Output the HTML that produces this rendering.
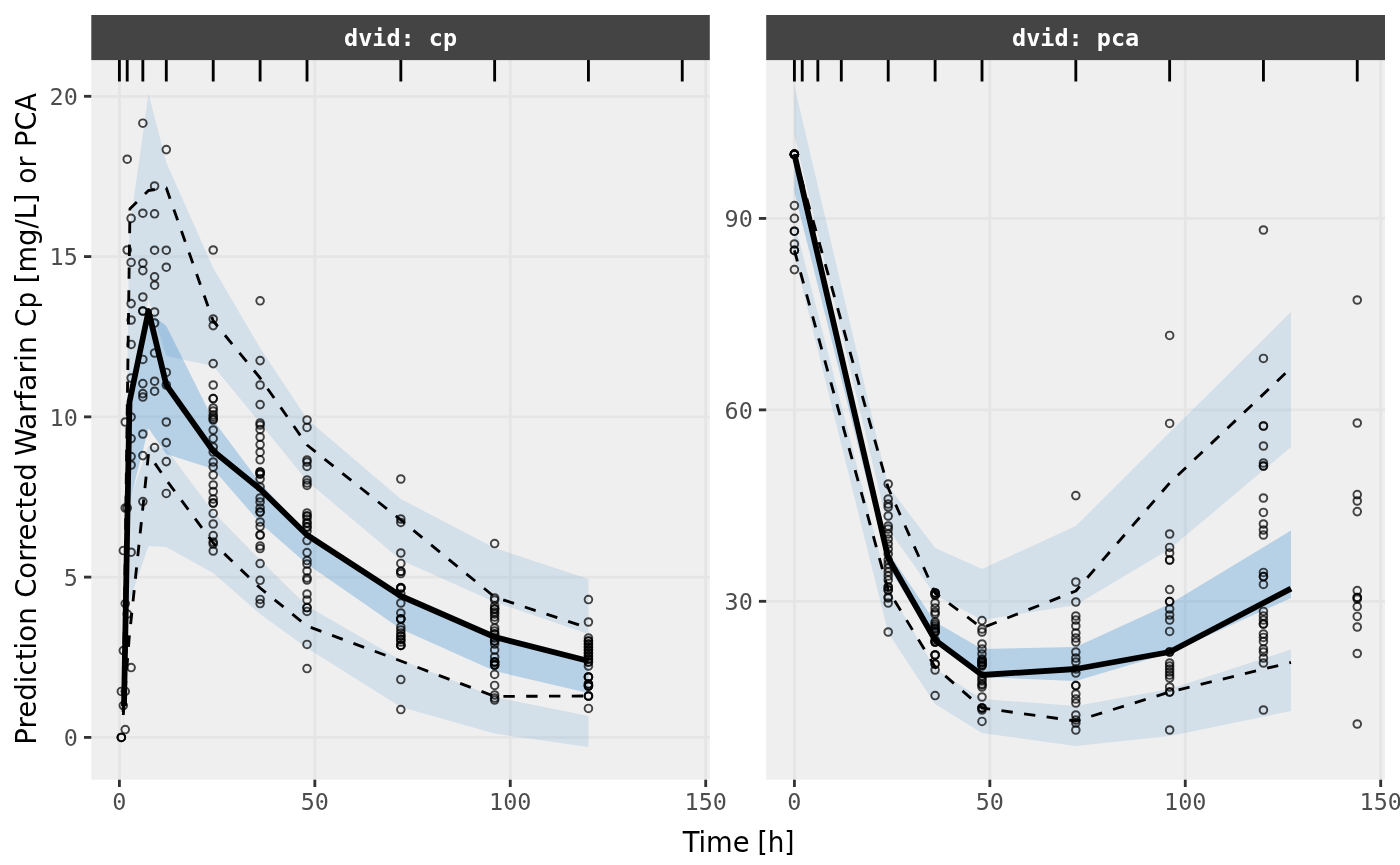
<!DOCTYPE html>
<html lang="en">
<head>
<meta charset="utf-8">
<title>VPC</title>
<style>
html,body{margin:0;padding:0;background:#fff;}
body{width:1400px;height:865px;overflow:hidden;}
svg{display:block;}
.tk{font-family:"DejaVu Sans Mono","Liberation Mono",monospace;font-size:23.47px;fill:#4d4d4d;}
.st{font-family:"DejaVu Sans Mono","Liberation Mono",monospace;font-size:23.47px;font-weight:bold;fill:#fff;}
.ti{font-family:"DejaVu Sans Condensed","DejaVu Sans","Liberation Sans",sans-serif;font-size:28.8px;fill:#000;}
</style>
</head>
<body>
<svg width="1400" height="865" viewBox="0 0 1400 865">
<rect width="1400" height="865" fill="#fff"/>

<clipPath id="c1"><rect x="91.3" y="59.8" width="618.5" height="719.9"/></clipPath>
<rect x="91.3" y="59.8" width="618.5" height="719.9" fill="#efefef"/>
<g clip-path="url(#c1)">
<line x1="91.3" x2="709.8" y1="737.4" y2="737.4" stroke="#e5e5e5" stroke-width="2.85"/>
<line x1="91.3" x2="709.8" y1="577.12" y2="577.12" stroke="#e5e5e5" stroke-width="2.85"/>
<line x1="91.3" x2="709.8" y1="416.85" y2="416.85" stroke="#e5e5e5" stroke-width="2.85"/>
<line x1="91.3" x2="709.8" y1="256.57" y2="256.57" stroke="#e5e5e5" stroke-width="2.85"/>
<line x1="91.3" x2="709.8" y1="96.3" y2="96.3" stroke="#e5e5e5" stroke-width="2.85"/>
<line x1="119.4" x2="119.4" y1="59.8" y2="779.7" stroke="#e5e5e5" stroke-width="2.85"/>
<line x1="314.84" x2="314.84" y1="59.8" y2="779.7" stroke="#e5e5e5" stroke-width="2.85"/>
<line x1="510.27" x2="510.27" y1="59.8" y2="779.7" stroke="#e5e5e5" stroke-width="2.85"/>
<line x1="705.71" x2="705.71" y1="59.8" y2="779.7" stroke="#e5e5e5" stroke-width="2.85"/>
<polygon points="123.31,700 129.17,232 148.5,93.75 166.3,162.5 213.21,268 260.11,348 307.02,419 400.83,499 494.64,548 588.44,579 588.44,634 494.64,602 400.83,560 307.02,481 260.11,423 213.21,366 166.3,356 148.5,299.5 129.17,395 123.31,712" fill="#3388cc" fill-opacity="0.15"/>
<polygon points="123.31,716 129.17,501 148.5,446 166.3,449 213.21,512 260.11,560 307.02,606 400.83,660 494.64,697 588.44,716 588.44,747 494.64,733.6 400.83,707 307.02,648 260.11,614 213.21,573 166.3,547 148.5,546 129.17,602 123.31,730" fill="#3388cc" fill-opacity="0.15"/>
<polygon points="123.31,704 129.17,398 148.5,312 166.3,326 213.21,420 260.11,483 307.02,533 400.83,595 494.64,634 588.44,658 588.44,693 494.64,671 400.83,629 307.02,564 260.11,523 213.21,469 166.3,454 148.5,428.3 129.17,504 123.31,716" fill="#3388cc" fill-opacity="0.3"/>
<path d="M124.01 706 L129.47 402 L148.5 311 L166.3 385 L213.21 451 L260.11 489 L307.02 535 L400.83 596 L494.64 637 L588.44 661" fill="none" stroke="#000" stroke-width="5.8" stroke-linejoin="round" stroke-linecap="butt"/>
<path d="M123.11 712 L129.97 208.7 L148.5 190.5 L166.3 188 L213.21 321 L260.11 378 L307.02 445 L400.83 520 L494.64 597 L588.44 628" fill="none" stroke="#000" stroke-width="2.85" stroke-linejoin="round" stroke-linecap="butt" stroke-dasharray="11.4 11.4"/>
<path d="M123.31 715 L129.17 638 L148.5 454 L166.3 480 L213.21 543 L260.11 588 L307.02 626 L400.83 661 L494.64 696.4 L588.44 696" fill="none" stroke="#000" stroke-width="2.85" stroke-linejoin="round" stroke-linecap="butt" stroke-dasharray="11.4 11.4"/>
<g fill="none" stroke="#000" stroke-opacity="0.72" stroke-width="1.95">
<circle cx="121.35" cy="737.4" r="3.8"/>
<circle cx="121.35" cy="737.4" r="3.8"/>
<circle cx="121.35" cy="737.4" r="3.8"/>
<circle cx="121.35" cy="691.4" r="3.8"/>
<circle cx="123.31" cy="705.6" r="3.8"/>
<circle cx="123.31" cy="650.6" r="3.8"/>
<circle cx="123.31" cy="550.6" r="3.8"/>
<circle cx="125.26" cy="729.6" r="3.8"/>
<circle cx="125.26" cy="691.4" r="3.8"/>
<circle cx="125.26" cy="603.6" r="3.8"/>
<circle cx="125.26" cy="422" r="3.8"/>
<circle cx="125.26" cy="508" r="3.8"/>
<circle cx="127.22" cy="159.2" r="3.8"/>
<circle cx="127.22" cy="250" r="3.8"/>
<circle cx="127.22" cy="614" r="3.8"/>
<circle cx="127.22" cy="508" r="3.8"/>
<circle cx="131.13" cy="218.4" r="3.8"/>
<circle cx="131.13" cy="262.4" r="3.8"/>
<circle cx="131.13" cy="303.6" r="3.8"/>
<circle cx="131.13" cy="320" r="3.8"/>
<circle cx="131.13" cy="344.4" r="3.8"/>
<circle cx="131.13" cy="378" r="3.8"/>
<circle cx="131.13" cy="417" r="3.8"/>
<circle cx="131.13" cy="438.6" r="3.8"/>
<circle cx="131.13" cy="456.6" r="3.8"/>
<circle cx="131.13" cy="465" r="3.8"/>
<circle cx="131.13" cy="552.2" r="3.8"/>
<circle cx="131.13" cy="667.6" r="3.8"/>
<circle cx="142.85" cy="123.2" r="3.8"/>
<circle cx="142.85" cy="213.2" r="3.8"/>
<circle cx="142.85" cy="263" r="3.8"/>
<circle cx="142.85" cy="270.6" r="3.8"/>
<circle cx="142.85" cy="297" r="3.8"/>
<circle cx="142.85" cy="311" r="3.8"/>
<circle cx="142.85" cy="311" r="3.8"/>
<circle cx="142.85" cy="359.4" r="3.8"/>
<circle cx="142.85" cy="383.6" r="3.8"/>
<circle cx="142.85" cy="393.6" r="3.8"/>
<circle cx="142.85" cy="397" r="3.8"/>
<circle cx="142.85" cy="434" r="3.8"/>
<circle cx="142.85" cy="455.6" r="3.8"/>
<circle cx="142.85" cy="501.6" r="3.8"/>
<circle cx="154.58" cy="186" r="3.8"/>
<circle cx="154.58" cy="213.8" r="3.8"/>
<circle cx="154.58" cy="250.2" r="3.8"/>
<circle cx="154.58" cy="276.8" r="3.8"/>
<circle cx="154.58" cy="285.2" r="3.8"/>
<circle cx="154.58" cy="312" r="3.8"/>
<circle cx="154.58" cy="323" r="3.8"/>
<circle cx="154.58" cy="353" r="3.8"/>
<circle cx="154.58" cy="381.2" r="3.8"/>
<circle cx="154.58" cy="391.2" r="3.8"/>
<circle cx="154.58" cy="447.6" r="3.8"/>
<circle cx="166.3" cy="149.6" r="3.8"/>
<circle cx="166.3" cy="250.2" r="3.8"/>
<circle cx="166.3" cy="267.2" r="3.8"/>
<circle cx="166.3" cy="372.4" r="3.8"/>
<circle cx="166.3" cy="385" r="3.8"/>
<circle cx="166.3" cy="422" r="3.8"/>
<circle cx="166.3" cy="442.6" r="3.8"/>
<circle cx="166.3" cy="461.6" r="3.8"/>
<circle cx="166.3" cy="493.4" r="3.8"/>
<circle cx="213.21" cy="250" r="3.8"/>
<circle cx="213.21" cy="319" r="3.8"/>
<circle cx="213.21" cy="325.6" r="3.8"/>
<circle cx="213.21" cy="363.6" r="3.8"/>
<circle cx="213.21" cy="385" r="3.8"/>
<circle cx="213.21" cy="398.6" r="3.8"/>
<circle cx="213.21" cy="398.6" r="3.8"/>
<circle cx="213.21" cy="408" r="3.8"/>
<circle cx="213.21" cy="411" r="3.8"/>
<circle cx="213.21" cy="415" r="3.8"/>
<circle cx="213.21" cy="419" r="3.8"/>
<circle cx="213.21" cy="417" r="3.8"/>
<circle cx="213.21" cy="420" r="3.8"/>
<circle cx="213.21" cy="430" r="3.8"/>
<circle cx="213.21" cy="438.6" r="3.8"/>
<circle cx="213.21" cy="447" r="3.8"/>
<circle cx="213.21" cy="452" r="3.8"/>
<circle cx="213.21" cy="462" r="3.8"/>
<circle cx="213.21" cy="467" r="3.8"/>
<circle cx="213.21" cy="475" r="3.8"/>
<circle cx="213.21" cy="485" r="3.8"/>
<circle cx="213.21" cy="491.6" r="3.8"/>
<circle cx="213.21" cy="499" r="3.8"/>
<circle cx="213.21" cy="503" r="3.8"/>
<circle cx="213.21" cy="503" r="3.8"/>
<circle cx="213.21" cy="513.4" r="3.8"/>
<circle cx="213.21" cy="524" r="3.8"/>
<circle cx="213.21" cy="535.6" r="3.8"/>
<circle cx="213.21" cy="542" r="3.8"/>
<circle cx="213.21" cy="544" r="3.8"/>
<circle cx="213.21" cy="551" r="3.8"/>
<circle cx="260.11" cy="300.8" r="3.8"/>
<circle cx="260.11" cy="360.6" r="3.8"/>
<circle cx="260.11" cy="385" r="3.8"/>
<circle cx="260.11" cy="404.6" r="3.8"/>
<circle cx="260.11" cy="423" r="3.8"/>
<circle cx="260.11" cy="425" r="3.8"/>
<circle cx="260.11" cy="429.4" r="3.8"/>
<circle cx="260.11" cy="437" r="3.8"/>
<circle cx="260.11" cy="444.6" r="3.8"/>
<circle cx="260.11" cy="452.2" r="3.8"/>
<circle cx="260.11" cy="459.8" r="3.8"/>
<circle cx="260.11" cy="472" r="3.8"/>
<circle cx="260.11" cy="472" r="3.8"/>
<circle cx="260.11" cy="474" r="3.8"/>
<circle cx="260.11" cy="474" r="3.8"/>
<circle cx="260.11" cy="479" r="3.8"/>
<circle cx="260.11" cy="487" r="3.8"/>
<circle cx="260.11" cy="498" r="3.8"/>
<circle cx="260.11" cy="502" r="3.8"/>
<circle cx="260.11" cy="508" r="3.8"/>
<circle cx="260.11" cy="512" r="3.8"/>
<circle cx="260.11" cy="512" r="3.8"/>
<circle cx="260.11" cy="522" r="3.8"/>
<circle cx="260.11" cy="526.6" r="3.8"/>
<circle cx="260.11" cy="535" r="3.8"/>
<circle cx="260.11" cy="535" r="3.8"/>
<circle cx="260.11" cy="546" r="3.8"/>
<circle cx="260.11" cy="548.6" r="3.8"/>
<circle cx="260.11" cy="563.6" r="3.8"/>
<circle cx="260.11" cy="580.3" r="3.8"/>
<circle cx="260.11" cy="599.4" r="3.8"/>
<circle cx="260.11" cy="603.6" r="3.8"/>
<circle cx="307.02" cy="420" r="3.8"/>
<circle cx="307.02" cy="427.4" r="3.8"/>
<circle cx="307.02" cy="460" r="3.8"/>
<circle cx="307.02" cy="462" r="3.8"/>
<circle cx="307.02" cy="466.4" r="3.8"/>
<circle cx="307.02" cy="480" r="3.8"/>
<circle cx="307.02" cy="483" r="3.8"/>
<circle cx="307.02" cy="485.4" r="3.8"/>
<circle cx="307.02" cy="513" r="3.8"/>
<circle cx="307.02" cy="516" r="3.8"/>
<circle cx="307.02" cy="516" r="3.8"/>
<circle cx="307.02" cy="519" r="3.8"/>
<circle cx="307.02" cy="523" r="3.8"/>
<circle cx="307.02" cy="523" r="3.8"/>
<circle cx="307.02" cy="527" r="3.8"/>
<circle cx="307.02" cy="527" r="3.8"/>
<circle cx="307.02" cy="531" r="3.8"/>
<circle cx="307.02" cy="540.6" r="3.8"/>
<circle cx="307.02" cy="552.6" r="3.8"/>
<circle cx="307.02" cy="560.6" r="3.8"/>
<circle cx="307.02" cy="564" r="3.8"/>
<circle cx="307.02" cy="571" r="3.8"/>
<circle cx="307.02" cy="578" r="3.8"/>
<circle cx="307.02" cy="580" r="3.8"/>
<circle cx="307.02" cy="594" r="3.8"/>
<circle cx="307.02" cy="600" r="3.8"/>
<circle cx="307.02" cy="607.6" r="3.8"/>
<circle cx="307.02" cy="607.6" r="3.8"/>
<circle cx="307.02" cy="611.4" r="3.8"/>
<circle cx="307.02" cy="644.4" r="3.8"/>
<circle cx="307.02" cy="668.6" r="3.8"/>
<circle cx="400.83" cy="479" r="3.8"/>
<circle cx="400.83" cy="519" r="3.8"/>
<circle cx="400.83" cy="522.4" r="3.8"/>
<circle cx="400.83" cy="553" r="3.8"/>
<circle cx="400.83" cy="563.4" r="3.8"/>
<circle cx="400.83" cy="571.4" r="3.8"/>
<circle cx="400.83" cy="571.4" r="3.8"/>
<circle cx="400.83" cy="573.6" r="3.8"/>
<circle cx="400.83" cy="587.6" r="3.8"/>
<circle cx="400.83" cy="588" r="3.8"/>
<circle cx="400.83" cy="588" r="3.8"/>
<circle cx="400.83" cy="588" r="3.8"/>
<circle cx="400.83" cy="594" r="3.8"/>
<circle cx="400.83" cy="603" r="3.8"/>
<circle cx="400.83" cy="613" r="3.8"/>
<circle cx="400.83" cy="619" r="3.8"/>
<circle cx="400.83" cy="619" r="3.8"/>
<circle cx="400.83" cy="619" r="3.8"/>
<circle cx="400.83" cy="627" r="3.8"/>
<circle cx="400.83" cy="630" r="3.8"/>
<circle cx="400.83" cy="633" r="3.8"/>
<circle cx="400.83" cy="636" r="3.8"/>
<circle cx="400.83" cy="636" r="3.8"/>
<circle cx="400.83" cy="639.4" r="3.8"/>
<circle cx="400.83" cy="639.4" r="3.8"/>
<circle cx="400.83" cy="642" r="3.8"/>
<circle cx="400.83" cy="645.4" r="3.8"/>
<circle cx="400.83" cy="645.4" r="3.8"/>
<circle cx="400.83" cy="645.4" r="3.8"/>
<circle cx="400.83" cy="679.6" r="3.8"/>
<circle cx="400.83" cy="709.6" r="3.8"/>
<circle cx="494.64" cy="543.6" r="3.8"/>
<circle cx="494.64" cy="598" r="3.8"/>
<circle cx="494.64" cy="600" r="3.8"/>
<circle cx="494.64" cy="606" r="3.8"/>
<circle cx="494.64" cy="609" r="3.8"/>
<circle cx="494.64" cy="609" r="3.8"/>
<circle cx="494.64" cy="612" r="3.8"/>
<circle cx="494.64" cy="614" r="3.8"/>
<circle cx="494.64" cy="617" r="3.8"/>
<circle cx="494.64" cy="620" r="3.8"/>
<circle cx="494.64" cy="628" r="3.8"/>
<circle cx="494.64" cy="631" r="3.8"/>
<circle cx="494.64" cy="634" r="3.8"/>
<circle cx="494.64" cy="634" r="3.8"/>
<circle cx="494.64" cy="638" r="3.8"/>
<circle cx="494.64" cy="641" r="3.8"/>
<circle cx="494.64" cy="641" r="3.8"/>
<circle cx="494.64" cy="644" r="3.8"/>
<circle cx="494.64" cy="650" r="3.8"/>
<circle cx="494.64" cy="657" r="3.8"/>
<circle cx="494.64" cy="662" r="3.8"/>
<circle cx="494.64" cy="662" r="3.8"/>
<circle cx="494.64" cy="662" r="3.8"/>
<circle cx="494.64" cy="665" r="3.8"/>
<circle cx="494.64" cy="665" r="3.8"/>
<circle cx="494.64" cy="665" r="3.8"/>
<circle cx="494.64" cy="674.4" r="3.8"/>
<circle cx="494.64" cy="685.4" r="3.8"/>
<circle cx="494.64" cy="695" r="3.8"/>
<circle cx="494.64" cy="698" r="3.8"/>
<circle cx="494.64" cy="700" r="3.8"/>
<circle cx="588.44" cy="599.6" r="3.8"/>
<circle cx="588.44" cy="622" r="3.8"/>
<circle cx="588.44" cy="638" r="3.8"/>
<circle cx="588.44" cy="641" r="3.8"/>
<circle cx="588.44" cy="641" r="3.8"/>
<circle cx="588.44" cy="644" r="3.8"/>
<circle cx="588.44" cy="644" r="3.8"/>
<circle cx="588.44" cy="647" r="3.8"/>
<circle cx="588.44" cy="647" r="3.8"/>
<circle cx="588.44" cy="650" r="3.8"/>
<circle cx="588.44" cy="650" r="3.8"/>
<circle cx="588.44" cy="653" r="3.8"/>
<circle cx="588.44" cy="653" r="3.8"/>
<circle cx="588.44" cy="656" r="3.8"/>
<circle cx="588.44" cy="656" r="3.8"/>
<circle cx="588.44" cy="659" r="3.8"/>
<circle cx="588.44" cy="659" r="3.8"/>
<circle cx="588.44" cy="662" r="3.8"/>
<circle cx="588.44" cy="662" r="3.8"/>
<circle cx="588.44" cy="666" r="3.8"/>
<circle cx="588.44" cy="677" r="3.8"/>
<circle cx="588.44" cy="677" r="3.8"/>
<circle cx="588.44" cy="677" r="3.8"/>
<circle cx="588.44" cy="684" r="3.8"/>
<circle cx="588.44" cy="684" r="3.8"/>
<circle cx="588.44" cy="686" r="3.8"/>
<circle cx="588.44" cy="686" r="3.8"/>
<circle cx="588.44" cy="686" r="3.8"/>
<circle cx="588.44" cy="696" r="3.8"/>
<circle cx="588.44" cy="696" r="3.8"/>
<circle cx="588.44" cy="696" r="3.8"/>
<circle cx="588.44" cy="708.4" r="3.8"/>
</g>
<line x1="119.4" x2="119.4" y1="59.8" y2="81.4" stroke="#000" stroke-width="2.85"/>
<line x1="127.22" x2="127.22" y1="59.8" y2="81.4" stroke="#000" stroke-width="2.85"/>
<line x1="142.85" x2="142.85" y1="59.8" y2="81.4" stroke="#000" stroke-width="2.85"/>
<line x1="166.3" x2="166.3" y1="59.8" y2="81.4" stroke="#000" stroke-width="2.85"/>
<line x1="213.21" x2="213.21" y1="59.8" y2="81.4" stroke="#000" stroke-width="2.85"/>
<line x1="260.11" x2="260.11" y1="59.8" y2="81.4" stroke="#000" stroke-width="2.85"/>
<line x1="307.02" x2="307.02" y1="59.8" y2="81.4" stroke="#000" stroke-width="2.85"/>
<line x1="400.83" x2="400.83" y1="59.8" y2="81.4" stroke="#000" stroke-width="2.85"/>
<line x1="494.64" x2="494.64" y1="59.8" y2="81.4" stroke="#000" stroke-width="2.85"/>
<line x1="588.44" x2="588.44" y1="59.8" y2="81.4" stroke="#000" stroke-width="2.85"/>
<line x1="682.25" x2="682.25" y1="59.8" y2="81.4" stroke="#000" stroke-width="2.85"/>
</g>
<rect x="91.3" y="15" width="618.5" height="45.1" fill="#444444"/>
<line x1="119.4" x2="119.4" y1="779.7" y2="787" stroke="#333" stroke-width="2.85"/>
<text class="tk" x="119.4" y="810.3" text-anchor="middle">0</text>
<line x1="314.84" x2="314.84" y1="779.7" y2="787" stroke="#333" stroke-width="2.85"/>
<text class="tk" x="314.84" y="810.3" text-anchor="middle">50</text>
<line x1="510.27" x2="510.27" y1="779.7" y2="787" stroke="#333" stroke-width="2.85"/>
<text class="tk" x="510.27" y="810.3" text-anchor="middle">100</text>
<line x1="705.71" x2="705.71" y1="779.7" y2="787" stroke="#333" stroke-width="2.85"/>
<text class="tk" x="705.71" y="810.3" text-anchor="middle">150</text>
<line x1="84" x2="91.3" y1="737.4" y2="737.4" stroke="#333" stroke-width="2.85"/>
<text class="tk" x="77.8" y="746.2" text-anchor="end">0</text>
<line x1="84" x2="91.3" y1="577.12" y2="577.12" stroke="#333" stroke-width="2.85"/>
<text class="tk" x="77.8" y="585.92" text-anchor="end">5</text>
<line x1="84" x2="91.3" y1="416.85" y2="416.85" stroke="#333" stroke-width="2.85"/>
<text class="tk" x="77.8" y="425.65" text-anchor="end">10</text>
<line x1="84" x2="91.3" y1="256.57" y2="256.57" stroke="#333" stroke-width="2.85"/>
<text class="tk" x="77.8" y="265.38" text-anchor="end">15</text>
<line x1="84" x2="91.3" y1="96.3" y2="96.3" stroke="#333" stroke-width="2.85"/>
<text class="tk" x="77.8" y="105.1" text-anchor="end">20</text>
<clipPath id="c2"><rect x="766.2" y="59.8" width="618.8" height="719.9"/></clipPath>
<rect x="766.2" y="59.8" width="618.8" height="719.9" fill="#efefef"/>
<g clip-path="url(#c2)">
<line x1="766.2" x2="1385" y1="601.3" y2="601.3" stroke="#e5e5e5" stroke-width="2.85"/>
<line x1="766.2" x2="1385" y1="409.87" y2="409.87" stroke="#e5e5e5" stroke-width="2.85"/>
<line x1="766.2" x2="1385" y1="218.44" y2="218.44" stroke="#e5e5e5" stroke-width="2.85"/>
<line x1="794.4" x2="794.4" y1="59.8" y2="779.7" stroke="#e5e5e5" stroke-width="2.85"/>
<line x1="989.84" x2="989.84" y1="59.8" y2="779.7" stroke="#e5e5e5" stroke-width="2.85"/>
<line x1="1185.27" x2="1185.27" y1="59.8" y2="779.7" stroke="#e5e5e5" stroke-width="2.85"/>
<line x1="1380.7" x2="1380.7" y1="59.8" y2="779.7" stroke="#e5e5e5" stroke-width="2.85"/>
<polygon points="794.4,86 888.21,486 935.11,548 982.02,569 1075.83,526 1169.64,432.6 1291,312 1291,447 1169.64,549 1075.83,605 982.02,620 935.11,595 888.21,529 794.4,135" fill="#3388cc" fill-opacity="0.15"/>
<polygon points="794.4,222 888.21,588 935.11,669 982.02,699 1075.83,706 1169.64,689 1291,649.6 1291,711 1169.64,736 1075.83,746 982.02,733 935.11,704 888.21,633 794.4,256" fill="#3388cc" fill-opacity="0.15"/>
<polygon points="794.4,150 888.21,552 935.11,622 982.02,649 1075.83,647 1169.64,604 1291,530.6 1291,598 1169.64,653 1075.83,681 982.02,677 935.11,644 888.21,566 794.4,192" fill="#3388cc" fill-opacity="0.3"/>
<path d="M794.4 154.4 L888.21 558 L935.11 640 L982.02 675 L1075.83 669 L1169.64 652 L1291 588.6" fill="none" stroke="#000" stroke-width="5.8" stroke-linejoin="round" stroke-linecap="butt"/>
<path d="M794.4 154.4 L888.21 488 L935.11 593 L982.02 628 L1075.83 591 L1169.64 483 L1291 368" fill="none" stroke="#000" stroke-width="2.85" stroke-linejoin="round" stroke-linecap="butt" stroke-dasharray="11.4 11.4"/>
<path d="M794.4 250.4 L888.21 590 L935.11 667 L982.02 708 L1075.83 721 L1169.64 692 L1291 662.4" fill="none" stroke="#000" stroke-width="2.85" stroke-linejoin="round" stroke-linecap="butt" stroke-dasharray="11.4 11.4"/>
<g fill="none" stroke="#000" stroke-opacity="0.72" stroke-width="1.95">
<circle cx="794.4" cy="154.4" r="3.8"/>
<circle cx="794.4" cy="154.4" r="3.8"/>
<circle cx="794.4" cy="154.4" r="3.8"/>
<circle cx="794.4" cy="154.4" r="3.8"/>
<circle cx="794.4" cy="154.4" r="3.8"/>
<circle cx="794.4" cy="154.4" r="3.8"/>
<circle cx="794.4" cy="154.4" r="3.8"/>
<circle cx="794.4" cy="154.4" r="3.8"/>
<circle cx="794.4" cy="205.6" r="3.8"/>
<circle cx="794.4" cy="218.4" r="3.8"/>
<circle cx="794.4" cy="231.2" r="3.8"/>
<circle cx="794.4" cy="231.2" r="3.8"/>
<circle cx="794.4" cy="244" r="3.8"/>
<circle cx="794.4" cy="250.4" r="3.8"/>
<circle cx="794.4" cy="250.4" r="3.8"/>
<circle cx="794.4" cy="269.6" r="3.8"/>
<circle cx="888.21" cy="484" r="3.8"/>
<circle cx="888.21" cy="499" r="3.8"/>
<circle cx="888.21" cy="504" r="3.8"/>
<circle cx="888.21" cy="507" r="3.8"/>
<circle cx="888.21" cy="516" r="3.8"/>
<circle cx="888.21" cy="526" r="3.8"/>
<circle cx="888.21" cy="529" r="3.8"/>
<circle cx="888.21" cy="534" r="3.8"/>
<circle cx="888.21" cy="539" r="3.8"/>
<circle cx="888.21" cy="544" r="3.8"/>
<circle cx="888.21" cy="549" r="3.8"/>
<circle cx="888.21" cy="554" r="3.8"/>
<circle cx="888.21" cy="560" r="3.8"/>
<circle cx="888.21" cy="564" r="3.8"/>
<circle cx="888.21" cy="568" r="3.8"/>
<circle cx="888.21" cy="572" r="3.8"/>
<circle cx="888.21" cy="576" r="3.8"/>
<circle cx="888.21" cy="580" r="3.8"/>
<circle cx="888.21" cy="587" r="3.8"/>
<circle cx="888.21" cy="587" r="3.8"/>
<circle cx="888.21" cy="590" r="3.8"/>
<circle cx="888.21" cy="590" r="3.8"/>
<circle cx="888.21" cy="597" r="3.8"/>
<circle cx="888.21" cy="598" r="3.8"/>
<circle cx="888.21" cy="603" r="3.8"/>
<circle cx="888.21" cy="632" r="3.8"/>
<circle cx="935.11" cy="593" r="3.8"/>
<circle cx="935.11" cy="593" r="3.8"/>
<circle cx="935.11" cy="593" r="3.8"/>
<circle cx="935.11" cy="595" r="3.8"/>
<circle cx="935.11" cy="595" r="3.8"/>
<circle cx="935.11" cy="603" r="3.8"/>
<circle cx="935.11" cy="608" r="3.8"/>
<circle cx="935.11" cy="612" r="3.8"/>
<circle cx="935.11" cy="614" r="3.8"/>
<circle cx="935.11" cy="622" r="3.8"/>
<circle cx="935.11" cy="624" r="3.8"/>
<circle cx="935.11" cy="626" r="3.8"/>
<circle cx="935.11" cy="628" r="3.8"/>
<circle cx="935.11" cy="629" r="3.8"/>
<circle cx="935.11" cy="631" r="3.8"/>
<circle cx="935.11" cy="632" r="3.8"/>
<circle cx="935.11" cy="632" r="3.8"/>
<circle cx="935.11" cy="640" r="3.8"/>
<circle cx="935.11" cy="642" r="3.8"/>
<circle cx="935.11" cy="642" r="3.8"/>
<circle cx="935.11" cy="642" r="3.8"/>
<circle cx="935.11" cy="655" r="3.8"/>
<circle cx="935.11" cy="655" r="3.8"/>
<circle cx="935.11" cy="655" r="3.8"/>
<circle cx="935.11" cy="664" r="3.8"/>
<circle cx="935.11" cy="664" r="3.8"/>
<circle cx="935.11" cy="670" r="3.8"/>
<circle cx="935.11" cy="695.6" r="3.8"/>
<circle cx="982.02" cy="620.6" r="3.8"/>
<circle cx="982.02" cy="629" r="3.8"/>
<circle cx="982.02" cy="632" r="3.8"/>
<circle cx="982.02" cy="644" r="3.8"/>
<circle cx="982.02" cy="649" r="3.8"/>
<circle cx="982.02" cy="654" r="3.8"/>
<circle cx="982.02" cy="659" r="3.8"/>
<circle cx="982.02" cy="660" r="3.8"/>
<circle cx="982.02" cy="662" r="3.8"/>
<circle cx="982.02" cy="662" r="3.8"/>
<circle cx="982.02" cy="663" r="3.8"/>
<circle cx="982.02" cy="665" r="3.8"/>
<circle cx="982.02" cy="665" r="3.8"/>
<circle cx="982.02" cy="666" r="3.8"/>
<circle cx="982.02" cy="676" r="3.8"/>
<circle cx="982.02" cy="679" r="3.8"/>
<circle cx="982.02" cy="681" r="3.8"/>
<circle cx="982.02" cy="684" r="3.8"/>
<circle cx="982.02" cy="685" r="3.8"/>
<circle cx="982.02" cy="687" r="3.8"/>
<circle cx="982.02" cy="697" r="3.8"/>
<circle cx="982.02" cy="708" r="3.8"/>
<circle cx="982.02" cy="708" r="3.8"/>
<circle cx="982.02" cy="708" r="3.8"/>
<circle cx="982.02" cy="710" r="3.8"/>
<circle cx="982.02" cy="721.4" r="3.8"/>
<circle cx="1075.83" cy="495.6" r="3.8"/>
<circle cx="1075.83" cy="582" r="3.8"/>
<circle cx="1075.83" cy="602" r="3.8"/>
<circle cx="1075.83" cy="616" r="3.8"/>
<circle cx="1075.83" cy="620" r="3.8"/>
<circle cx="1075.83" cy="626" r="3.8"/>
<circle cx="1075.83" cy="633" r="3.8"/>
<circle cx="1075.83" cy="638" r="3.8"/>
<circle cx="1075.83" cy="642" r="3.8"/>
<circle cx="1075.83" cy="652" r="3.8"/>
<circle cx="1075.83" cy="658" r="3.8"/>
<circle cx="1075.83" cy="662" r="3.8"/>
<circle cx="1075.83" cy="669" r="3.8"/>
<circle cx="1075.83" cy="673" r="3.8"/>
<circle cx="1075.83" cy="685.6" r="3.8"/>
<circle cx="1075.83" cy="685.6" r="3.8"/>
<circle cx="1075.83" cy="694" r="3.8"/>
<circle cx="1075.83" cy="699" r="3.8"/>
<circle cx="1075.83" cy="703" r="3.8"/>
<circle cx="1075.83" cy="715" r="3.8"/>
<circle cx="1075.83" cy="720" r="3.8"/>
<circle cx="1075.83" cy="723" r="3.8"/>
<circle cx="1075.83" cy="730" r="3.8"/>
<circle cx="1169.64" cy="335.4" r="3.8"/>
<circle cx="1169.64" cy="423.4" r="3.8"/>
<circle cx="1169.64" cy="534" r="3.8"/>
<circle cx="1169.64" cy="547.4" r="3.8"/>
<circle cx="1169.64" cy="553" r="3.8"/>
<circle cx="1169.64" cy="560" r="3.8"/>
<circle cx="1169.64" cy="560" r="3.8"/>
<circle cx="1169.64" cy="589.6" r="3.8"/>
<circle cx="1169.64" cy="601.6" r="3.8"/>
<circle cx="1169.64" cy="601.6" r="3.8"/>
<circle cx="1169.64" cy="609" r="3.8"/>
<circle cx="1169.64" cy="615" r="3.8"/>
<circle cx="1169.64" cy="620" r="3.8"/>
<circle cx="1169.64" cy="631.4" r="3.8"/>
<circle cx="1169.64" cy="652" r="3.8"/>
<circle cx="1169.64" cy="652" r="3.8"/>
<circle cx="1169.64" cy="663" r="3.8"/>
<circle cx="1169.64" cy="666" r="3.8"/>
<circle cx="1169.64" cy="669" r="3.8"/>
<circle cx="1169.64" cy="672" r="3.8"/>
<circle cx="1169.64" cy="675" r="3.8"/>
<circle cx="1169.64" cy="678" r="3.8"/>
<circle cx="1169.64" cy="687" r="3.8"/>
<circle cx="1169.64" cy="692" r="3.8"/>
<circle cx="1169.64" cy="692" r="3.8"/>
<circle cx="1169.64" cy="730" r="3.8"/>
<circle cx="1263.44" cy="230" r="3.8"/>
<circle cx="1263.44" cy="358.4" r="3.8"/>
<circle cx="1263.44" cy="426" r="3.8"/>
<circle cx="1263.44" cy="426" r="3.8"/>
<circle cx="1263.44" cy="446" r="3.8"/>
<circle cx="1263.44" cy="463" r="3.8"/>
<circle cx="1263.44" cy="466" r="3.8"/>
<circle cx="1263.44" cy="466" r="3.8"/>
<circle cx="1263.44" cy="498" r="3.8"/>
<circle cx="1263.44" cy="512.4" r="3.8"/>
<circle cx="1263.44" cy="524" r="3.8"/>
<circle cx="1263.44" cy="530" r="3.8"/>
<circle cx="1263.44" cy="535" r="3.8"/>
<circle cx="1263.44" cy="572.4" r="3.8"/>
<circle cx="1263.44" cy="576.6" r="3.8"/>
<circle cx="1263.44" cy="576.6" r="3.8"/>
<circle cx="1263.44" cy="584.4" r="3.8"/>
<circle cx="1263.44" cy="611.4" r="3.8"/>
<circle cx="1263.44" cy="616" r="3.8"/>
<circle cx="1263.44" cy="620" r="3.8"/>
<circle cx="1263.44" cy="624" r="3.8"/>
<circle cx="1263.44" cy="624" r="3.8"/>
<circle cx="1263.44" cy="634" r="3.8"/>
<circle cx="1263.44" cy="637.4" r="3.8"/>
<circle cx="1263.44" cy="641.6" r="3.8"/>
<circle cx="1263.44" cy="649" r="3.8"/>
<circle cx="1263.44" cy="652" r="3.8"/>
<circle cx="1263.44" cy="658" r="3.8"/>
<circle cx="1263.44" cy="663" r="3.8"/>
<circle cx="1263.44" cy="710" r="3.8"/>
<circle cx="1357.25" cy="300" r="3.8"/>
<circle cx="1357.25" cy="423" r="3.8"/>
<circle cx="1357.25" cy="494.6" r="3.8"/>
<circle cx="1357.25" cy="501" r="3.8"/>
<circle cx="1357.25" cy="511.6" r="3.8"/>
<circle cx="1357.25" cy="590.6" r="3.8"/>
<circle cx="1357.25" cy="597.4" r="3.8"/>
<circle cx="1357.25" cy="597.4" r="3.8"/>
<circle cx="1357.25" cy="599" r="3.8"/>
<circle cx="1357.25" cy="606.6" r="3.8"/>
<circle cx="1357.25" cy="616.4" r="3.8"/>
<circle cx="1357.25" cy="627" r="3.8"/>
<circle cx="1357.25" cy="653.5" r="3.8"/>
<circle cx="1357.25" cy="724" r="3.8"/>
</g>
<line x1="794.4" x2="794.4" y1="59.8" y2="81.4" stroke="#000" stroke-width="2.85"/>
<line x1="802.22" x2="802.22" y1="59.8" y2="81.4" stroke="#000" stroke-width="2.85"/>
<line x1="817.85" x2="817.85" y1="59.8" y2="81.4" stroke="#000" stroke-width="2.85"/>
<line x1="841.3" x2="841.3" y1="59.8" y2="81.4" stroke="#000" stroke-width="2.85"/>
<line x1="888.21" x2="888.21" y1="59.8" y2="81.4" stroke="#000" stroke-width="2.85"/>
<line x1="935.11" x2="935.11" y1="59.8" y2="81.4" stroke="#000" stroke-width="2.85"/>
<line x1="982.02" x2="982.02" y1="59.8" y2="81.4" stroke="#000" stroke-width="2.85"/>
<line x1="1075.83" x2="1075.83" y1="59.8" y2="81.4" stroke="#000" stroke-width="2.85"/>
<line x1="1169.64" x2="1169.64" y1="59.8" y2="81.4" stroke="#000" stroke-width="2.85"/>
<line x1="1263.44" x2="1263.44" y1="59.8" y2="81.4" stroke="#000" stroke-width="2.85"/>
<line x1="1357.25" x2="1357.25" y1="59.8" y2="81.4" stroke="#000" stroke-width="2.85"/>
</g>
<rect x="766.2" y="15" width="618.8" height="45.1" fill="#444444"/>
<line x1="794.4" x2="794.4" y1="779.7" y2="787" stroke="#333" stroke-width="2.85"/>
<text class="tk" x="794.4" y="810.3" text-anchor="middle">0</text>
<line x1="989.84" x2="989.84" y1="779.7" y2="787" stroke="#333" stroke-width="2.85"/>
<text class="tk" x="989.84" y="810.3" text-anchor="middle">50</text>
<line x1="1185.27" x2="1185.27" y1="779.7" y2="787" stroke="#333" stroke-width="2.85"/>
<text class="tk" x="1185.27" y="810.3" text-anchor="middle">100</text>
<line x1="1380.7" x2="1380.7" y1="779.7" y2="787" stroke="#333" stroke-width="2.85"/>
<text class="tk" x="1380.7" y="810.3" text-anchor="middle">150</text>
<line x1="758.9" x2="766.2" y1="601.3" y2="601.3" stroke="#333" stroke-width="2.85"/>
<text class="tk" x="752.8" y="610.1" text-anchor="end">30</text>
<line x1="758.9" x2="766.2" y1="409.87" y2="409.87" stroke="#333" stroke-width="2.85"/>
<text class="tk" x="752.8" y="418.67" text-anchor="end">60</text>
<line x1="758.9" x2="766.2" y1="218.44" y2="218.44" stroke="#333" stroke-width="2.85"/>
<text class="tk" x="752.8" y="227.24" text-anchor="end">90</text>
<text class="st" x="400.55" y="46" text-anchor="middle" xml:space="preserve">dvid: cp</text>
<text class="st" x="1075.6" y="46" text-anchor="middle" xml:space="preserve">dvid: pca</text>
<text class="ti" y="852.3"><tspan x="682.72" textLength="66.91" lengthAdjust="spacingAndGlyphs">Time</tspan> <tspan x="757.58" textLength="36.99" lengthAdjust="spacingAndGlyphs">[h]</tspan></text>
<text class="ti" transform="translate(36.2 0) rotate(-90)" y="0"><tspan x="-744.72" textLength="137.44" lengthAdjust="spacingAndGlyphs">Prediction</tspan> <tspan x="-597.84" textLength="134.51" lengthAdjust="spacingAndGlyphs">Corrected</tspan> <tspan x="-456.07" textLength="120" lengthAdjust="spacingAndGlyphs">Warfarin</tspan> <tspan x="-327.01" textLength="35.1" lengthAdjust="spacingAndGlyphs">Cp</tspan> <tspan x="-283.29" textLength="89.81" lengthAdjust="spacingAndGlyphs">[mg/L]</tspan> <tspan x="-183.72" textLength="27.21" lengthAdjust="spacingAndGlyphs">or</tspan> <tspan x="-146.98" textLength="53.96" lengthAdjust="spacingAndGlyphs">PCA</tspan></text>
</svg>
</body>
</html>
